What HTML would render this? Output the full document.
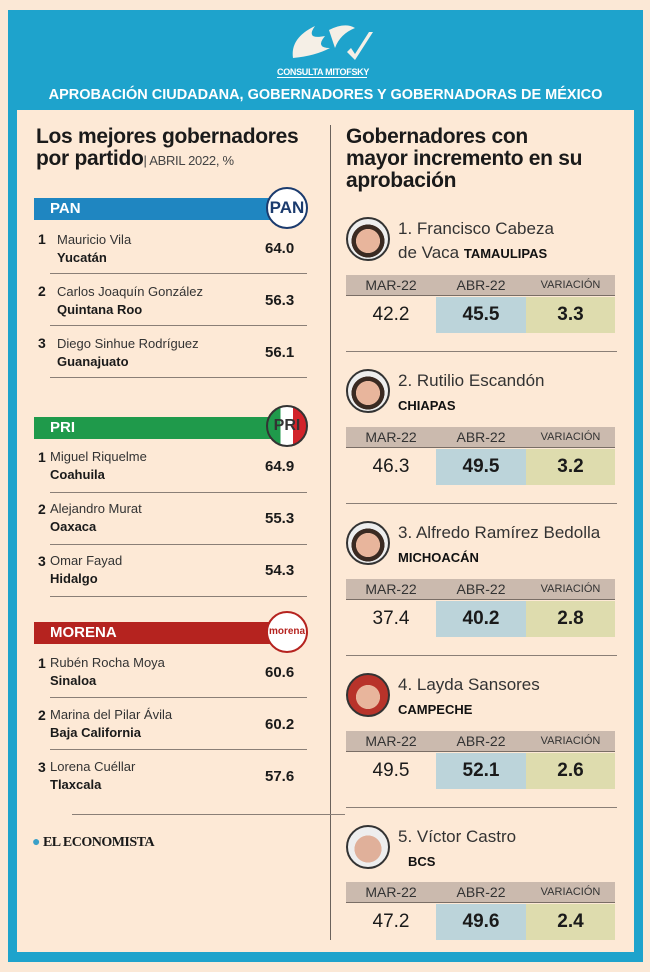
<!DOCTYPE html>
<html><head><meta charset="utf-8"><style>
*{margin:0;padding:0;box-sizing:border-box}
body{width:650px;height:972px;background:#fbe8d6;font-family:"Liberation Sans",sans-serif;position:relative;overflow:hidden;color:#1a1a1a}
.a{position:absolute;white-space:nowrap}
.frame{left:8px;top:10px;width:635px;height:952px;background:#1ea3cc}
.panel{left:17px;top:110px;width:617px;height:842px;background:#fde9d6}
.h1{font-weight:bold;font-size:21px;line-height:22px;letter-spacing:-0.3px}
.bar{height:22px;color:#fff;font-weight:bold;font-size:15px;line-height:22px;padding-left:16px}
.logo{width:42px;height:42px;border-radius:50%;border:2px solid #1b3b6e;background:#fff;text-align:center;font-weight:bold;line-height:38px}
.num{font-weight:bold;font-size:14px}
.nm{font-size:13px;color:#333}
.st{font-weight:bold;font-size:13px}
.val{font-weight:bold;font-size:15px}
.hr{height:1px;background:#8a7f77}
.ph{width:44px;height:44px;border-radius:50%;border:2px solid #333;background:radial-gradient(circle at 50% 55%,#e8b59c 0 40%,#3a2a22 41% 55%,#eee 56%)}
.gn{font-size:17px;color:#333;line-height:24px}
.th{height:21px;background:#cbbaae;border-bottom:1px solid #7a6e66}
.th span{position:absolute;top:0;line-height:21px;text-align:center;font-size:14px;color:#333}
.c{position:absolute;top:22px;height:36px;line-height:36px;text-align:center;font-size:19px}
</style></head><body>
<div class="a frame"></div>
<div class="a panel"></div>
<svg class="a" style="left:285px;top:18px" width="90" height="48"><path d="M8 40 Q5 20 30 8 Q20 22 40 18 Q30 30 45 30 Q30 38 8 40Z M44 12 Q60 4 70 10 Q55 16 50 30 Z M62 34 L70 42 L88 14 L84 14 L70 36 L66 30Z" fill="#f5efe6"/></svg>
<div class="a" style="left:277px;top:67px;width:90px;text-align:center;color:#fff;font-weight:bold;font-size:9px;letter-spacing:-0.3px;border-bottom:1px solid #fff">CONSULTA MITOFSKY</div>
<div class="a" style="left:8px;top:87px;width:635px;text-align:center;color:#fff;font-weight:bold;font-size:14.5px">APROBACIÓN CIUDADANA, GOBERNADORES Y GOBERNADORAS DE MÉXICO</div>
<div class="a" style="left:330px;top:125px;width:1px;height:815px;background:#6b625c"></div>
<div class="a h1" style="left:36px;top:126px">Los mejores gobernadores<br>por partido<span style="font-weight:normal;font-size:13px;color:#444">| ABRIL 2022, %</span></div>
<div class="a h1" style="left:346px;top:126px">Gobernadores con<br>mayor incremento en su<br>aprobación</div>

<div class="a bar" style="left:34px;top:198px;width:240px;background:#1f86c1">PAN</div>
<div class="a logo" style="left:266px;top:187px;color:#1b3b6e;font-size:17px">PAN</div>
<div class="a bar" style="left:34px;top:417px;width:240px;background:#1f9a4b">PRI</div>
<div class="a logo" style="left:266px;top:405px;border-color:#333;background:linear-gradient(90deg,#1f9a4b 0 33%,#fff 33% 66%,#d2232a 66%);color:#333;font-size:16px">PRI</div>
<div class="a bar" style="left:34px;top:622px;width:240px;background:#b5231f">MORENA</div>
<div class="a logo" style="left:266px;top:611px;border-color:#b5231f;color:#b5231f;font-size:10px">morena</div>

<div class="a num" style="left:38px;top:231px">1</div><div class="a nm" style="left:57px;top:232px">Mauricio Vila</div><div class="a st" style="left:57px;top:250px">Yucatán</div><div class="a val" style="left:265px;top:240px">64.0</div><div class="a hr" style="left:50px;top:273px;width:257px"></div>
<div class="a num" style="left:38px;top:283px">2</div><div class="a nm" style="left:57px;top:284px">Carlos Joaquín González</div><div class="a st" style="left:57px;top:302px">Quintana Roo</div><div class="a val" style="left:265px;top:292px">56.3</div><div class="a hr" style="left:50px;top:325px;width:257px"></div>
<div class="a num" style="left:38px;top:335px">3</div><div class="a nm" style="left:57px;top:336px">Diego Sinhue Rodríguez</div><div class="a st" style="left:57px;top:354px">Guanajuato</div><div class="a val" style="left:265px;top:344px">56.1</div><div class="a hr" style="left:50px;top:377px;width:257px"></div>

<div class="a num" style="left:38px;top:449px">1</div><div class="a nm" style="left:50px;top:449px">Miguel Riquelme</div><div class="a st" style="left:50px;top:467px">Coahuila</div><div class="a val" style="left:265px;top:458px">64.9</div><div class="a hr" style="left:50px;top:492px;width:257px"></div>
<div class="a num" style="left:38px;top:501px">2</div><div class="a nm" style="left:50px;top:501px">Alejandro Murat</div><div class="a st" style="left:50px;top:519px">Oaxaca</div><div class="a val" style="left:265px;top:510px">55.3</div><div class="a hr" style="left:50px;top:544px;width:257px"></div>
<div class="a num" style="left:38px;top:553px">3</div><div class="a nm" style="left:50px;top:553px">Omar Fayad</div><div class="a st" style="left:50px;top:571px">Hidalgo</div><div class="a val" style="left:265px;top:562px">54.3</div><div class="a hr" style="left:50px;top:596px;width:257px"></div>

<div class="a num" style="left:38px;top:655px">1</div><div class="a nm" style="left:50px;top:655px">Rubén Rocha Moya</div><div class="a st" style="left:50px;top:673px">Sinaloa</div><div class="a val" style="left:265px;top:664px">60.6</div><div class="a hr" style="left:50px;top:697px;width:257px"></div>
<div class="a num" style="left:38px;top:707px">2</div><div class="a nm" style="left:50px;top:707px">Marina del Pilar Ávila</div><div class="a st" style="left:50px;top:725px">Baja California</div><div class="a val" style="left:265px;top:716px">60.2</div><div class="a hr" style="left:50px;top:749px;width:257px"></div>
<div class="a num" style="left:38px;top:759px">3</div><div class="a nm" style="left:50px;top:759px">Lorena Cuéllar</div><div class="a st" style="left:50px;top:777px">Tlaxcala</div><div class="a val" style="left:265px;top:768px">57.6</div><div class="a hr" style="left:72px;top:814px;width:273px"></div>
<div class="a" style="left:32px;top:835px;font-family:'Liberation Serif',serif;font-weight:bold;font-size:14px;letter-spacing:-0.5px"><span style="color:#3aa0c8">●</span> EL ECONOMISTA</div>

<div class="a ph" style="left:346px;top:217px"></div>
<div class="a gn" style="left:398px;top:217px">1. Francisco Cabeza<br>de Vaca <b style="font-size:13px;color:#111">TAMAULIPAS</b></div>
<div class="a" style="left:346px;top:275px;width:269px;height:60px">
<div class="a th" style="left:0;top:0;width:269px"><span style="left:0;width:90px">MAR-22</span><span style="left:90px;width:90px">ABR-22</span><span style="left:180px;width:89px;font-size:11px">VARIACIÓN</span></div>
<div class="c" style="left:0;width:90px">42.2</div><div class="c" style="left:90px;width:90px;background:#bcd4da;font-weight:bold">45.5</div><div class="c" style="left:180px;width:89px;background:#dedcae;font-weight:bold">3.3</div></div>
<div class="a hr" style="left:346px;top:351px;width:271px"></div>

<div class="a ph" style="left:346px;top:369px"></div>
<div class="a gn" style="left:398px;top:369px">2. Rutilio Escandón<br><b style="font-size:13px;color:#111">CHIAPAS</b></div>
<div class="a" style="left:346px;top:427px;width:269px;height:60px">
<div class="a th" style="left:0;top:0;width:269px"><span style="left:0;width:90px">MAR-22</span><span style="left:90px;width:90px">ABR-22</span><span style="left:180px;width:89px;font-size:11px">VARIACIÓN</span></div>
<div class="c" style="left:0;width:90px">46.3</div><div class="c" style="left:90px;width:90px;background:#bcd4da;font-weight:bold">49.5</div><div class="c" style="left:180px;width:89px;background:#dedcae;font-weight:bold">3.2</div></div>
<div class="a hr" style="left:346px;top:503px;width:271px"></div>

<div class="a ph" style="left:346px;top:521px"></div>
<div class="a gn" style="left:398px;top:521px">3. Alfredo Ramírez Bedolla<br><b style="font-size:13px;color:#111">MICHOACÁN</b></div>
<div class="a" style="left:346px;top:579px;width:269px;height:60px">
<div class="a th" style="left:0;top:0;width:269px"><span style="left:0;width:90px">MAR-22</span><span style="left:90px;width:90px">ABR-22</span><span style="left:180px;width:89px;font-size:11px">VARIACIÓN</span></div>
<div class="c" style="left:0;width:90px">37.4</div><div class="c" style="left:90px;width:90px;background:#bcd4da;font-weight:bold">40.2</div><div class="c" style="left:180px;width:89px;background:#dedcae;font-weight:bold">2.8</div></div>
<div class="a hr" style="left:346px;top:655px;width:271px"></div>

<div class="a ph" style="left:346px;top:673px;background:radial-gradient(circle at 50% 55%,#e8b59c 0 40%,#b8332a 41%)"></div>
<div class="a gn" style="left:398px;top:673px">4. Layda Sansores<br><b style="font-size:13px;color:#111">CAMPECHE</b></div>
<div class="a" style="left:346px;top:731px;width:269px;height:60px">
<div class="a th" style="left:0;top:0;width:269px"><span style="left:0;width:90px">MAR-22</span><span style="left:90px;width:90px">ABR-22</span><span style="left:180px;width:89px;font-size:11px">VARIACIÓN</span></div>
<div class="c" style="left:0;width:90px">49.5</div><div class="c" style="left:90px;width:90px;background:#bcd4da;font-weight:bold">52.1</div><div class="c" style="left:180px;width:89px;background:#dedcae;font-weight:bold">2.6</div></div>
<div class="a hr" style="left:346px;top:807px;width:271px"></div>

<div class="a ph" style="left:346px;top:825px;background:radial-gradient(circle at 50% 55%,#e0b09a 0 45%,#eee 46%)"></div>
<div class="a gn" style="left:398px;top:825px">5. Víctor Castro<br><b style="font-size:13px;color:#111;margin-left:10px">BCS</b></div>
<div class="a" style="left:346px;top:882px;width:269px;height:60px">
<div class="a th" style="left:0;top:0;width:269px"><span style="left:0;width:90px">MAR-22</span><span style="left:90px;width:90px">ABR-22</span><span style="left:180px;width:89px;font-size:11px">VARIACIÓN</span></div>
<div class="c" style="left:0;width:90px">47.2</div><div class="c" style="left:90px;width:90px;background:#bcd4da;font-weight:bold">49.6</div><div class="c" style="left:180px;width:89px;background:#dedcae;font-weight:bold">2.4</div></div>
</body></html>
